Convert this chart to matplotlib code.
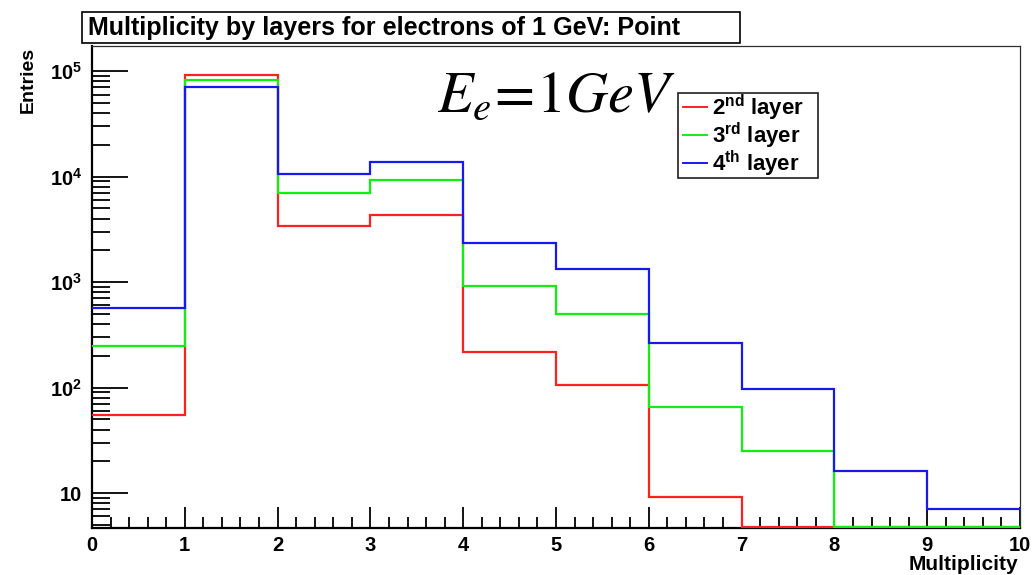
import numpy as np
import matplotlib
matplotlib.use("Agg")
import matplotlib.pyplot as plt
from matplotlib.patches import Rectangle
from matplotlib.lines import Line2D
from matplotlib.ticker import FixedLocator, FixedFormatter, MultipleLocator

plt.rcParams['font.family'] = ['Liberation Sans', 'DejaVu Sans']
plt.rcParams['mathtext.fontset'] = 'custom'
plt.rcParams['mathtext.bf'] = 'Liberation Sans:bold'
plt.rcParams['mathtext.rm'] = 'Liberation Sans:bold'
plt.rcParams['mathtext.default'] = 'bf'

# data
edges = np.arange(0, 11)
layer2 = [55, 92000, 3400, 4300, 215, 105, 9.2, 0, 0, 0]
layer3 = [248, 82000, 7000, 9200, 915, 495, 66, 25, 0, 0]
layer4 = [565, 70500, 10500, 13900, 2330, 1330, 265, 97, 16.2, 7.0]
labels = ["$2^{nd}$ layer", "$3^{rd}$ layer", "$4^{th}$ layer"]
colors = ["#ff2020", "#10f010", "#1818f0"]

ytick_vals = [10, 1e2, 1e3, 1e4, 1e5]
ytick_labels = ["10", "$10^{2}$", "$10^{3}$", "$10^{4}$", "$10^{5}$"]

ymin, ymax = 4.66, 1.73e5

fig = plt.figure(figsize=(10.33, 5.75), dpi=100)
ax = fig.add_axes([92/1033, 1-528/575, (1020-92)/1033, (528-46)/575])

for vals, lab, c in zip([layer2, layer3, layer4], labels, colors):
    v = np.array(vals, dtype=float)
    v = np.where(v > 0, v, ymin * 1.012)
    ax.stairs(v, edges, color=c, lw=1.6, label=lab, baseline=None, zorder=3)

ax.set_yscale('log')
ax.set_xlim(0, 10)
ax.set_ylim(ymin, ymax)

ax.yaxis.set_major_locator(FixedLocator(ytick_vals))
ax.yaxis.set_major_formatter(FixedFormatter(ytick_labels))
minor = [m * 10**d for d in range(0, 6) for m in range(2, 10)]
ax.yaxis.set_minor_locator(FixedLocator(minor))
ax.yaxis.set_minor_formatter(FixedFormatter([""] * len(minor)))

ax.xaxis.set_major_locator(MultipleLocator(1))
ax.xaxis.set_minor_locator(MultipleLocator(0.2))

ax.tick_params(axis='y', which='major', direction='in', length=26, width=1.3, pad=7, labelsize=14.5)
ax.tick_params(axis='y', which='minor', direction='in', length=13, width=1.3)
ax.tick_params(axis='x', which='major', direction='in', length=15, width=1.3, pad=6, labelsize=14.5)
ax.tick_params(axis='x', which='minor', direction='in', length=8, width=1.3)
for lab in ax.get_xticklabels() + ax.get_yticklabels():
    lab.set_fontweight('bold')

ax.spines['left'].set_linewidth(1.6)
ax.spines['bottom'].set_linewidth(1.6)
ax.spines['top'].set_linewidth(0.9)
ax.spines['right'].set_linewidth(0.9)
ax.spines['top'].set_color('#303030')
ax.spines['right'].set_color('#303030')

# title box
fig.patches.append(Rectangle((82/1033, 1-43/575), (740-82)/1033, 31/575,
                             transform=fig.transFigure, facecolor='white',
                             edgecolor='black', lw=1.2))
fig.text(88/1033, 1-27.5/575, "Multiplicity by layers for electrons of 1 GeV: Point",
         fontsize=18.1, fontweight='bold', ha='left', va='center')

fig.text(28/1033, 1-47/575, "Entries", rotation=90, fontsize=14,
         fontweight='bold', ha='center', va='top')
fig.text(1018/1033, 1-564/575, "Multiplicity", fontsize=15,
         fontweight='bold', ha='right', va='center')

fig.text(437/1033, 1-112/575,
         r"$\mathit{E}_{\mathit{e}}\!\mathrm{=}\!\mathrm{1}\mathit{GeV}$",
         fontsize=42, math_fontfamily='stix', ha='left', va='baseline')

# legend box, ROOT style
fig.patches.append(Rectangle((678/1033, 1-178/575), 140/1033, 85/575,
                             transform=fig.transFigure, facecolor='white',
                             edgecolor='#202020', lw=1.2, zorder=5))
for i, (lab, c) in enumerate(zip(labels, colors)):
    yy = 1 - (107 + 28*i)/575
    fig.lines.append(Line2D([683/1033, 707/1033], [yy, yy], color=c, lw=1.4,
                            transform=fig.transFigure, zorder=6))
    fig.text(712/1033, yy - 1/575, lab, fontsize=16, fontweight='bold',
             ha='left', va='center', zorder=6)

fig.savefig("out.png", dpi=100)
